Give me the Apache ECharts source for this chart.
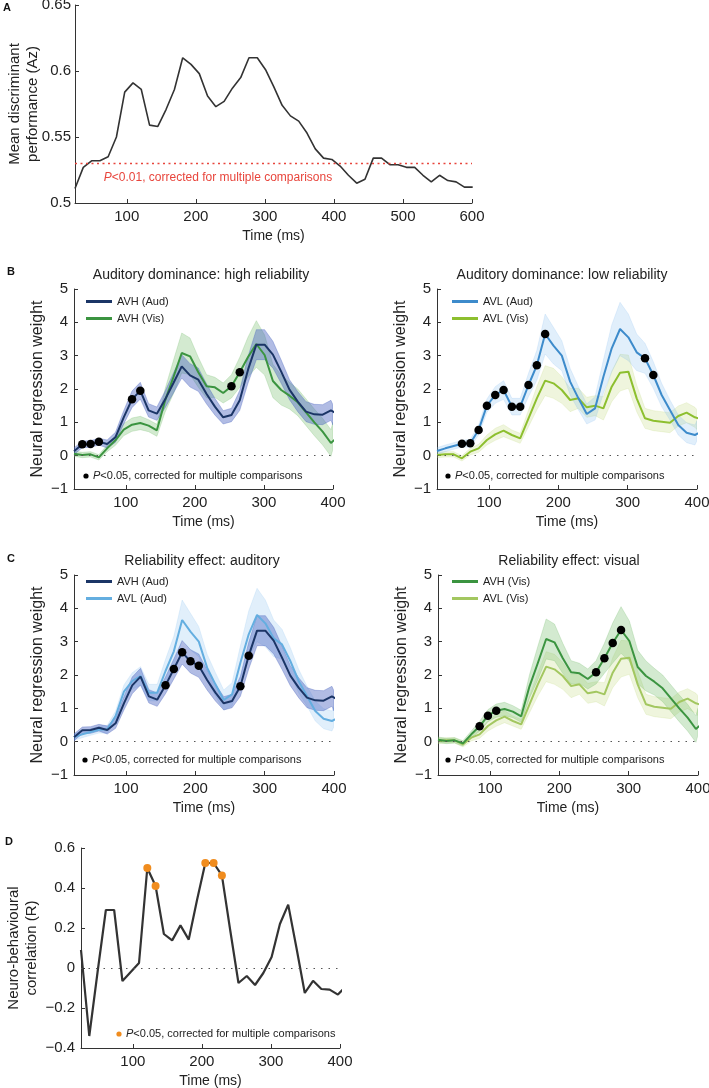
<!DOCTYPE html>
<html><head><meta charset="utf-8">
<script src="https://cdn.jsdelivr.net/npm/echarts@6/dist/echarts.min.js"></script>
<style>html,body{margin:0;padding:0;background:#fff}#c{width:709px;height:1088px}</style>
</head><body><div id="c"></div>
<script>
// ---------- DATA ----------
const timeA = [25,37,49,61,73,85,97,109,121,133,145,157,169,181,193,205,217,229,241,253,265,277,289,301,313,325,337,349,361,373,385,397,409,421,433,445,457,469,481,493,505,517,529,541,553,565,577,589,601];
const perfA = [0.511,0.527,0.532,0.532,0.535,0.550,0.584,0.591,0.586,0.559,0.558,0.571,0.586,0.610,0.605,0.598,0.581,0.573,0.577,0.587,0.595,0.610,0.610,0.601,0.588,0.574,0.566,0.562,0.553,0.541,0.534,0.533,0.528,0.521,0.515,0.518,0.534,0.534,0.529,0.529,0.527,0.527,0.521,0.516,0.521,0.517,0.516,0.512,0.512];
const thresholdA = 0.528;
const ticksA = [100,200,300,400,500,600];

const timeN = [25,37,49,61,73,85,97,109,121,133,145,157,169,181,193,205,217,229,241,253,265,277,289,301,313,325,337,349,361,373,385,397,409];
const ticksN = [100,200,300,400];
const avhAud    = [0.13,0.34,0.35,0.42,0.35,0.55,1.15,1.69,1.95,1.36,1.26,1.69,2.18,2.68,2.41,2.28,1.85,1.47,1.15,1.22,1.66,2.58,3.33,3.33,3.03,2.52,1.98,1.62,1.32,1.24,1.23,1.36,1.22];
const avhAudSem = [0.10,0.10,0.10,0.10,0.12,0.15,0.20,0.25,0.25,0.20,0.20,0.25,0.30,0.35,0.35,0.35,0.30,0.25,0.20,0.20,0.30,0.40,0.45,0.45,0.40,0.35,0.30,0.30,0.30,0.30,0.30,0.30,0.30];
const avhVis    = [0.06,0.02,0.04,-0.05,0.22,0.46,0.78,0.93,0.98,0.90,0.76,1.66,2.36,3.08,2.98,2.50,2.08,2.05,1.88,2.08,2.50,2.96,3.35,3.02,2.24,1.97,1.80,1.60,1.30,1.00,0.72,0.38,0.60];
const avhVisSem = [0.08,0.08,0.08,0.08,0.10,0.15,0.18,0.20,0.20,0.18,0.18,0.35,0.50,0.60,0.55,0.45,0.35,0.30,0.30,0.35,0.45,0.60,0.70,0.60,0.50,0.45,0.40,0.40,0.40,0.40,0.40,0.40,0.40];
const avlAud    = [0.14,0.22,0.29,0.36,0.37,0.77,1.50,1.82,1.97,1.47,1.47,2.12,2.71,3.65,3.30,3.00,2.22,1.72,1.25,1.42,2.37,3.22,3.80,3.55,3.10,2.92,2.42,1.82,1.37,0.92,0.69,0.62,0.75];
const avlAudSem = [0.10,0.10,0.10,0.10,0.12,0.15,0.20,0.25,0.28,0.25,0.25,0.35,0.45,0.60,0.55,0.45,0.40,0.35,0.30,0.35,0.50,0.70,0.80,0.70,0.55,0.45,0.40,0.35,0.30,0.30,0.30,0.30,0.30];
const avlVis    = [0.02,0.04,0.04,-0.08,0.12,0.22,0.47,0.64,0.75,0.62,0.52,1.12,1.72,2.25,2.17,1.97,1.67,1.72,1.45,1.50,1.42,2.07,2.49,2.52,1.72,1.12,1.05,1.02,0.99,1.19,1.29,1.15,1.08];
const avlVisSem = [0.08,0.08,0.08,0.08,0.10,0.12,0.15,0.18,0.18,0.15,0.15,0.25,0.35,0.45,0.45,0.40,0.35,0.30,0.30,0.30,0.35,0.45,0.55,0.50,0.40,0.30,0.30,0.30,0.30,0.30,0.30,0.30,0.30];

// significant time points (ms)
const sigBL_avhAud = [37,49,61,109,121];
const sigBL_avhVis = [253,265];
const sigBR_avlAud = [61,73,85,97,109,121,133,145,157,169,181,325,337];
const sigCL_avhAud = [157,169,181,193,205,265,277];
const sigCR_avhVis = [85,97,109,253,265,277,289];

const corrD = [0.09,-0.34,-0.02,0.29,0.29,-0.065,-0.02,0.025,0.50,0.41,0.17,0.138,0.213,0.142,0.34,0.525,0.525,0.463,0.19,-0.075,-0.04,-0.085,-0.025,0.055,0.22,0.317,0.10,-0.125,-0.064,-0.105,-0.108,-0.133,-0.09];
const sigD = [121,133,205,217,229];

// ---------- STYLE ----------
const FONT = "'Liberation Sans', Arial, Helvetica, sans-serif";
const TXT = '#222';
const C = {
  avhAud:'#1b3566', avhVis:'#3b9440', avlAudB:'#3d8bcb', avlAudC:'#64aee0', avlVisB:'#8dbf2f', avlVisC:'#a3c760',
  bNavy:'rgba(70,95,190,0.42)', bGreen:'rgba(110,185,100,0.30)', bBlueB:'rgba(120,180,235,0.22)', bBlueC:'rgba(140,195,240,0.26)', bYG:'rgba(180,210,100,0.22)'
};

const grids = [
  {left:75, top:5, width:397, height:198},
  {left:74, top:289, width:259, height:200},
  {left:437, top:289, width:260, height:200},
  {left:74, top:575, width:260, height:200},
  {left:438, top:575, width:260, height:200},
  {left:81, top:848, width:259, height:200}
].map(g => Object.assign({outerBoundsMode:'none', containLabel:false}, g));

function xAx(i, min, max, ticks){
  return {type:'value', gridIndex:i, min, max, name:'Time (ms)', nameLocation:'middle', nameGap:26,
    nameTextStyle:{fontSize:14, color:TXT, fontFamily:FONT},
    axisLine:{onZero:false, lineStyle:{color:'#333', width:1}},
    axisTick:{inside:true, length:4, customValues:ticks, lineStyle:{color:'#333'}},
    axisLabel:{customValues:ticks, fontSize:15, color:TXT, margin:6, fontFamily:FONT},
    splitLine:{show:false}};
}
function yAx(i, min, max, interval, name, gap, fmt, nfs, lm){
  return {type:'value', gridIndex:i, min, max, interval, name, nameLocation:'middle', nameGap:gap, nameMoveOverlap:false,
    nameTextStyle:{fontSize:nfs||16, lineHeight:18, color:TXT, fontFamily:FONT},
    axisLine:{onZero:false, lineStyle:{color:'#333', width:1}},
    axisTick:{inside:true, length:4, lineStyle:{color:'#333'}},
    axisLabel:{fontSize:15, color:TXT, margin:lm||6, fontFamily:FONT, formatter:fmt},
    splitLine:{show:false}};
}
const fmtInt = v => String(v).replace('-', '\u2212');
const fmt2 = v => String(parseFloat(v.toFixed(2)));
const fmt1 = v => String(parseFloat(v.toFixed(1))).replace('-', '\u2212');

function pairs(t, v){ return t.map((x,i)=>[x, v[i]]); }
function band(gi, mean, sem, color){
  return {type:'custom', xAxisIndex:gi, yAxisIndex:gi, silent:true, z:1, clip:true,
    data: timeN.map((t,i)=>[t, mean[i]-sem[i], mean[i]+sem[i]]),
    encode:{x:0, y:[1,2]},
    renderItem: (params, api) => {
      if (params.dataIndex !== 0) return null;
      const up = [], lo = [];
      for (let i = 0; i < timeN.length; i++) {
        up.push(api.coord([timeN[i], mean[i]+sem[i]]));
        lo.push(api.coord([timeN[i], mean[i]-sem[i]]));
      }
      let pts = up.concat(lo.reverse());
      const cs = params.coordSys;
      if (echarts.graphic && echarts.graphic.clipPointsByRect) {
        pts = echarts.graphic.clipPointsByRect(pts, {x:cs.x, y:cs.y, width:cs.width, height:cs.height});
      }
      return {type:'polygon', shape:{points:pts}, style:{fill:color, stroke:color, lineWidth:0.8}};
    }};
}
const zeroLine = {silent:true, symbol:'none', label:{show:false}, lineStyle:{color:'#555', type:[1.5,6], width:1}, data:[{yAxis:0}]};
function line(gi, name, vals, color, zl){
  const s = {type:'line', name, xAxisIndex:gi, yAxisIndex:gi, data:pairs(timeN, vals), symbol:'none', color,
    lineStyle:{width:2, color}, itemStyle:{color}, z:3};
  if (zl) s.markLine = zeroLine;
  return s;
}
function dots(gi, sig, vals, color, size){
  return {type:'scatter', xAxisIndex:gi, yAxisIndex:gi, symbolSize:size||8.5, itemStyle:{color:color||'#000', opacity:1}, z:5, silent:true,
    data: sig.map(t => [t, vals[timeN.indexOf(t)]])};
}

const series = [
  // A
  {type:'line', xAxisIndex:0, yAxisIndex:0, data:pairs(timeA, perfA), symbol:'none', lineStyle:{width:1.6, color:'#333'}, z:3,
   markLine:{silent:true, symbol:'none', label:{show:false}, lineStyle:{color:'#e8453c', type:[2,3.5], width:1.3}, data:[{yAxis:thresholdA}]}},
  // B left
  band(1, avhVis, avhVisSem, C.bGreen),
  band(1, avhAud, avhAudSem, C.bNavy),
  line(1, 'AVH (Vis)#B', avhVis, C.avhVis, true),
  line(1, 'AVH (Aud)#B', avhAud, C.avhAud),
  dots(1, sigBL_avhAud, avhAud), dots(1, sigBL_avhVis, avhVis),
  // B right
  band(2, avlVis, avlVisSem, C.bYG),
  band(2, avlAud, avlAudSem, C.bBlueB),
  line(2, 'AVL (Vis)#B', avlVis, C.avlVisB, true),
  line(2, 'AVL (Aud)#B', avlAud, C.avlAudB),
  dots(2, sigBR_avlAud, avlAud),
  // C left
  band(3, avlAud, avlAudSem, C.bBlueC),
  band(3, avhAud, avhAudSem, C.bNavy),
  line(3, 'AVL (Aud)#C', avlAud, C.avlAudC, true),
  line(3, 'AVH (Aud)#C', avhAud, C.avhAud),
  dots(3, sigCL_avhAud, avhAud),
  // C right
  band(4, avlVis, avlVisSem, C.bYG),
  band(4, avhVis, avhVisSem, C.bGreen),
  line(4, 'AVL (Vis)#C', avlVis, C.avlVisC, true),
  line(4, 'AVH (Vis)#C', avhVis, C.avhVis),
  dots(4, sigCR_avhVis, avhVis),
  // D
  {type:'line', xAxisIndex:5, yAxisIndex:5, data:pairs(timeN, corrD), symbol:'none', lineStyle:{width:2.2, color:'#333'}, z:3, markLine:zeroLine},
  dots(5, sigD, corrD, '#f08c1e', 8)
];

function legend(left, top, names){
  return {left, top, orient:'vertical', padding:0, itemWidth:26, itemHeight:3, itemGap:6, icon:'rect', selectedMode:false,
    data:names, formatter:n=>n.split('#')[0], textStyle:{fontSize:11, color:TXT, fontFamily:FONT}};
}

function note(x, y, txt, dotColor){
  return {type:'group', children:[
    {type:'circle', shape:{cx:x, cy:y, r:2.6}, style:{fill:dotColor||'#000'}},
    {type:'text', x:x+7, y:y, style:{text:txt, rich:{i:{fontStyle:'italic', fontSize:11, fontFamily:FONT, fill:TXT}},
      fontSize:11, fontFamily:FONT, fill:TXT, verticalAlign:'middle', align:'left'}}
  ]};
}
function ttl(x, y, t){ return {type:'text', x, y, style:{text:t, fontSize:14, fontFamily:FONT, fill:TXT, align:'center', verticalAlign:'middle'}}; }
function letter(x, y, t){ return {type:'text', x, y, style:{text:t, fontSize:11, fontWeight:'bold', fontFamily:FONT, fill:'#111', align:'center', verticalAlign:'middle'}}; }
const noteTxt = '{i|P}<0.05, corrected for multiple comparisons';

const option = {
  animation:false,
  backgroundColor:'#fff',
  textStyle:{fontFamily:FONT},
  grid: grids,
  xAxis: [xAx(0,25,600,ticksA), xAx(1,25,400,ticksN), xAx(2,25,400,ticksN), xAx(3,25,400,ticksN), xAx(4,25,400,ticksN), xAx(5,25,400,ticksN)],
  yAxis: [
    yAx(0, 0.5, 0.65, 0.05, 'Mean discriminant\nperformance (Az)', 33, fmt2, 15, 4),
    yAx(1, -1, 5, 1, 'Neural regression weight', 27, fmtInt),
    yAx(2, -1, 5, 1, 'Neural regression weight', 27, fmtInt),
    yAx(3, -1, 5, 1, 'Neural regression weight', 27, fmtInt),
    yAx(4, -1, 5, 1, 'Neural regression weight', 27, fmtInt),
    yAx(5, -0.4, 0.6, 0.2, 'Neuro-behavioural\ncorrelation (R)', 40, fmt1, 15)
  ],
  legend: [
    legend(86, 296, ['AVH (Aud)#B','AVH (Vis)#B']),
    legend(452, 296, ['AVL (Aud)#B','AVL (Vis)#B']),
    legend(86, 576, ['AVH (Aud)#C','AVL (Aud)#C']),
    legend(452, 576, ['AVH (Vis)#C','AVL (Vis)#C'])
  ],
  graphic: [
    letter(7, 8, 'A'), letter(11, 272, 'B'), letter(11, 559, 'C'), letter(9, 842, 'D'),
    ttl(201, 275, 'Auditory dominance: high reliability'),
    ttl(562, 275, 'Auditory dominance: low reliability'),
    ttl(202, 561, 'Reliability effect: auditory'),
    ttl(569, 561, 'Reliability effect: visual'),
    {type:'text', x:218, y:178, style:{text:'{i|P}<0.01, corrected for multiple comparisons', rich:{i:{fontStyle:'italic', fontSize:12, fontFamily:FONT, fill:'#e8453c'}},
      fontSize:12, fontFamily:FONT, fill:'#e8453c', align:'center', verticalAlign:'middle'}},
    note(86, 476, noteTxt), note(448, 476, noteTxt),
    note(85, 760, noteTxt), note(448, 760, noteTxt),
    note(119, 1034, noteTxt, '#f08c1e')
  ],
  series
};
const chart = echarts.init(document.getElementById('c'), null, {renderer:'canvas'});
chart.setOption(option);
</script></body></html>
